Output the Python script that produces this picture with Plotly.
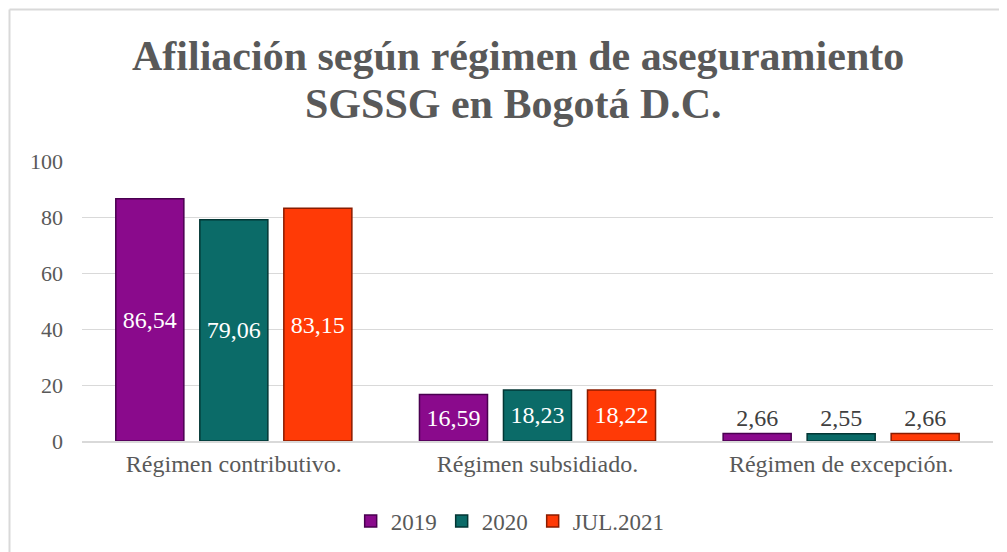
import plotly.graph_objects as go

categories = ["Régimen contributivo.", "Régimen subsidiado.", "Régimen de excepción."]
series_names = ["2019", "2020", "JUL.2021"]
v2019 = [86.54, 16.59, 2.66]
v2020 = [79.06, 18.23, 2.55]
vjul2021 = [83.15, 18.22, 2.66]
values = [v2019, v2020, vjul2021]
colors = ["#8A0A8C", "#0B6B68", "#FF3A06"]
edge = ["#4A0050", "#033634", "#8A1C00"]
y_ticks = [0, 20, 40, 60, 80, 100]
title_lines = ["Afiliación según régimen de aseguramiento", "SGSSG en Bogotá D.C."]

serif = "Liberation Serif, Times New Roman, serif"
W, H = 999, 544          # page body has an 8px margin
L, R, T, B = 74, 14, 153, 111
pw, ph = W - L - R, H - T - B

fig = go.Figure()
for name, vals, c, e in zip(series_names, values, colors, edge):
    pos = ["inside" if v > 10 else "outside" for v in vals]
    fig.add_trace(go.Bar(
        x=categories, y=vals, name=name,
        marker=dict(color=c, line=dict(color=e, width=1.5)),
        text=[f"{v:.2f}".replace(".", ",") for v in vals],
        textposition=pos,
        insidetextanchor="middle",
        textangle=0,
        constraintext="none",
        insidetextfont=dict(color="white", size=24, family=serif),
        outsidetextfont=dict(color="#404040", size=24, family=serif),
        cliponaxis=False,
    ))

fig.update_layout(
    width=W, height=H,
    margin=dict(l=L, r=R, t=T, b=B, autoexpand=False),
    paper_bgcolor="white", plot_bgcolor="white",
    barmode="group", bargap=0.17, bargroupgap=0.19,
    font=dict(family=serif, color="#595959"),
    legend=dict(orientation="h", x=0.47, xanchor="center", y=(441 - 521) / ph, yanchor="middle",
                font=dict(size=23, color="#595959", family=serif),
                traceorder="normal", itemwidth=30),
    showlegend=True,
)
for txt, cy, cx in zip(title_lines, [55.5, 103.5], [509.5, 505.5]):
    fig.add_annotation(text=f"<b>{txt}</b>", xref="paper", yref="paper",
                       x=(cx - L) / pw, y=(441 - cy) / ph, xanchor="center", yanchor="middle",
                       showarrow=False, font=dict(family=serif, size=42, color="#595959"))

fig.update_yaxes(range=[0, 100], tickvals=y_ticks, showgrid=True, gridcolor="#D9D9D9",
                 gridwidth=1, zeroline=False, showline=False, ticklabelstandoff=18,
                 tickfont=dict(size=22, color="#595959", family=serif), ticks="")
fig.update_xaxes(showline=True, linecolor="#D9D9D9", linewidth=2,
                 tickfont=dict(size=24, color="#595959", family=serif))
# outer frame (left and top edges of chart border)
fx = (1.5 - L) / pw
fy = (H - B - 1.5) / ph
fig.add_shape(type="line", xref="paper", yref="paper", x0=fx, x1=fx, y0=-1.0, y1=fy,
              line=dict(color="#D9D9D9", width=2))
fig.add_shape(type="line", xref="paper", yref="paper", x0=fx, x1=1.1, y0=fy, y1=fy,
              line=dict(color="#D9D9D9", width=2))
fig.write_html("out.html")
